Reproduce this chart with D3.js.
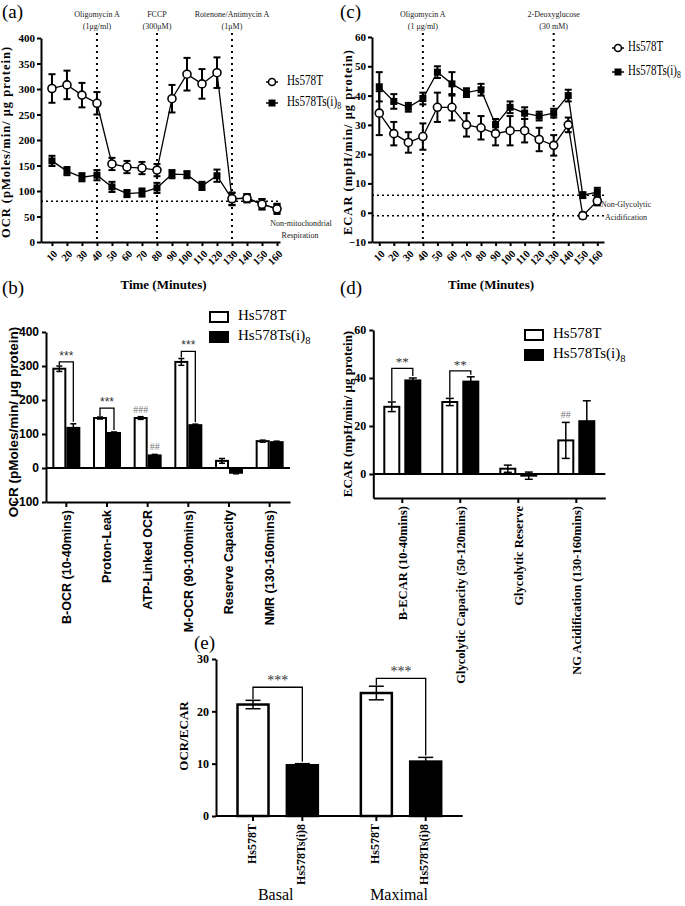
<!DOCTYPE html>
<html>
<head>
<meta charset="utf-8">
<script src="https://cdn.jsdelivr.net/npm/d3@7"></script>
<style>
  body { margin: 0; background: #fff; }
  svg { display: block; }
</style>
</head>
<body>
<svg id="fig" width="685" height="906"></svg>
<script>
// ---- data ----
const timeMin = [10, 20, 30, 40, 50, 60, 70, 80, 90, 100, 110, 120, 130, 140, 150, 160];

// (a) OCR time course
const ocrParent    = [301, 308, 288, 272, 153, 147, 145, 141, 281, 329, 310, 332, 85, 86, 74, 65];
const ocrParentErr = [28, 28, 24, 22, 12, 12, 12, 12, 27, 32, 29, 30, 12, 8, 10, 10];
const ocrClone     = [159, 139, 127, 131, 108, 95, 97, 106, 133, 132, 110, 130, 84, 86, 74, 66];
const ocrCloneErr  = [10, 8, 8, 10, 10, 7, 8, 10, 8, 7, 8, 12, 12, 8, 10, 8];

// (c) ECAR time course
const ecarParent    = [34, 27, 24, 26, 36, 36, 30, 29, 27, 28, 28, 25, 23, 30, -1, 4];
const ecarParentErr = [7.5, 4, 3.5, 4.5, 5, 4.5, 4, 4, 4, 5, 4, 4, 3.5, 2.5, 1, 1.5];
const ecarClone     = [43, 38, 36, 39, 48, 44, 41, 42, 30, 36, 34, 33, 34, 40, 6, 7];
const ecarCloneErr  = [5, 2.5, 1.5, 2, 2, 4, 1.5, 2, 2, 2, 2, 1.5, 1.5, 2, 1, 1.5];

// (b) OCR parameters
const ocrCats = ['B-OCR (10-40mins)', 'Proton-Leak', 'ATP-Linked OCR', 'M-OCR (90-100mins)', 'Reserve Capacity', 'NMR (130-160mins)'];
const ocrBarParent    = [292, 147, 147, 312, 21, 79];
const ocrBarParentErr = [8, 3, 4, 10, 7, 3];
const ocrBarClone     = [118, 103, 37, 126, -14, 76];
const ocrBarCloneErr  = [12, 3, 3, 3, 3, 3];
const ocrSig = [
  { cat: 0, text: '***', level: 312 },
  { cat: 1, text: '***', level: 176 },
  { cat: 3, text: '***', level: 343 }
];
const ocrHash = [
  { cat: 2, series: 0, text: '###' },
  { cat: 2, series: 1, text: '##' }
];

// (d) ECAR parameters
const ecarCats = ['B-ECAR (10-40mins)', 'Glycolytic Capacity (50-120mins)', 'Glycolytic Reserve', 'NG Acidification (130-160mins)'];
const ecarBarParent    = [28, 30, 2.2, 14];
const ecarBarParentErr = [2, 1.5, 1.5, 7.5];
const ecarBarClone     = [39, 38.5, -0.7, 22];
const ecarBarCloneErr  = [1, 2, 1.5, 8.5];
const ecarSig = [
  { cat: 0, text: '**', level: 44 },
  { cat: 1, text: '**', level: 43 }
];
const ecarHash = [{ cat: 3, series: 0, text: '##' }];

// (e) OCR/ECAR ratio
const ratioGroups    = ['Basal', 'Maximal'];
const ratioParent    = [21.3, 23.5];
const ratioParentErr = [0.8, 1.3];
const ratioClone     = [9.7, 10.4];
const ratioCloneErr  = [0.3, 0.8];
const ratioSig = [
  { group: 0, text: '***', level: 24.6 },
  { group: 1, text: '***', level: 26.3 }
];

const seriesNames = ['Hs578T', 'Hs578Ts(i)8'];

// ---- drawing ----
const serif = '"Liberation Serif", "Times New Roman", serif';
const sans = '"Liberation Sans", Arial, sans-serif';
const svg = d3.select('#fig');

function styleAxis(g, font, size) {
  g.attr('font-family', font).attr('font-size', size).attr('font-weight', 'bold');
  g.select('.domain').attr('stroke', '#000').attr('stroke-width', 2);
  g.selectAll('.tick line').attr('stroke', '#000').attr('stroke-width', 2);
  g.selectAll('.tick text').attr('fill', '#000');
}

function cloneLabel(sel, x, y, size, font) {
  const t = sel.append('text').attr('x', x).attr('y', y).attr('font-family', font)
    .attr('font-size', size).attr('dominant-baseline', 'middle').text('Hs578Ts(i)');
  t.append('tspan').attr('font-size', size * 0.7).attr('dy', size * 0.3).text('8');
  return t;
}

function panelTag(x, y, txt) {
  svg.append('text').attr('x', x).attr('y', y).attr('font-family', serif)
    .attr('font-size', 19).text(txt);
}

function timePanel(o) {
  const g = svg.append('g');
  const [x0, x1] = o.x.range();
  const yBase = o.y.range()[0];

  o.drugs.forEach(d => {
    g.append('line').attr('x1', o.x(d.t)).attr('x2', o.x(d.t))
      .attr('y1', 33).attr('y2', yBase)
      .attr('stroke', '#000').attr('stroke-width', 2).attr('stroke-dasharray', '2,4');
    g.append('text').attr('x', o.x(d.t)).attr('y', 17).attr('text-anchor', 'middle')
      .attr('font-family', serif).attr('font-size', 8).attr('fill', '#222').text(d.l1);
    g.append('text').attr('x', o.x(d.t)).attr('y', 29).attr('text-anchor', 'middle')
      .attr('font-family', serif).attr('font-size', 8).attr('fill', '#222').text(d.l2);
  });

  o.baselines.forEach(v => {
    g.append('line').attr('x1', x0).attr('x2', o.baseEnd).attr('y1', o.y(v)).attr('y2', o.y(v))
      .attr('stroke', '#000').attr('stroke-width', 1.5).attr('stroke-dasharray', '2,3');
  });
  o.baseText.forEach(t => {
    g.append('text').attr('x', t.x).attr('y', t.y).attr('text-anchor', 'middle')
      .attr('font-family', serif).attr('font-size', 8).attr('fill', '#222').text(t.s);
  });

  const ya = g.append('g').attr('transform', `translate(${x0},0)`)
    .call(d3.axisLeft(o.y).tickValues(o.yTicks).tickSize(4).tickPadding(2).tickSizeOuter(0));
  styleAxis(ya, serif, 11);

  const xa = g.append('g').attr('transform', `translate(0,${yBase})`)
    .call(d3.axisBottom(o.x).tickValues(timeMin).tickSize(4).tickSizeOuter(0));
  styleAxis(xa, serif, 10.5);
  xa.selectAll('.tick text').attr('y', 0).attr('dy', '0.35em')
    .attr('transform', 'translate(3,10) rotate(-45)').attr('text-anchor', 'end');

  g.append('text').attr('x', (x0 + x1) / 2 + 3).attr('y', 289).attr('text-anchor', 'middle')
    .attr('font-family', serif).attr('font-size', 13).attr('font-weight', 'bold').text('Time (Minutes)');

  g.append('text').attr('transform', `translate(${o.titleX},${o.titleY}) rotate(-90)`)
    .attr('text-anchor', 'middle').attr('font-family', serif).attr('font-size', 12.5)
    .attr('font-weight', 'bold').attr('letter-spacing', 1).text(o.title);

  const line = d3.line().x(d => o.x(d.t)).y(d => o.y(d.v));
  o.series.forEach(s => {
    const pts = timeMin.map((t, i) => ({ t, v: s.vals[i], e: s.errs[i] }));
    const sg = g.append('g');
    sg.append('path').datum(pts).attr('d', line).attr('fill', 'none')
      .attr('stroke', '#000').attr('stroke-width', 1.3);
    const eb = sg.selectAll('.eb').data(pts).enter().append('g');
    eb.append('line').attr('x1', d => o.x(d.t)).attr('x2', d => o.x(d.t))
      .attr('y1', d => o.y(d.v - d.e)).attr('y2', d => o.y(d.v + d.e))
      .attr('stroke', '#000').attr('stroke-width', 2);
    [-1, 1].forEach(sgn => {
      eb.append('line').attr('x1', d => o.x(d.t) - 3.5).attr('x2', d => o.x(d.t) + 3.5)
        .attr('y1', d => o.y(d.v + sgn * d.e)).attr('y2', d => o.y(d.v + sgn * d.e))
        .attr('stroke', '#000').attr('stroke-width', 2);
    });
    if (s.marker === 'circle') {
      sg.selectAll('.m').data(pts).enter().append('circle')
        .attr('cx', d => o.x(d.t)).attr('cy', d => o.y(d.v)).attr('r', 4)
        .attr('fill', '#fff').attr('stroke', '#000').attr('stroke-width', 1.6);
    } else {
      sg.selectAll('.m').data(pts).enter().append('rect')
        .attr('x', d => o.x(d.t) - 3.5).attr('y', d => o.y(d.v) - 3.5)
        .attr('width', 7).attr('height', 7).attr('fill', '#000');
    }
  });

  // legend (text is narrow in the source, so squeeze it horizontally)
  const lg = g.append('g');
  seriesNames.forEach((n, i) => {
    const ly = o.legY + i * o.legGap;
    lg.append('line').attr('x1', o.legX - 6).attr('x2', o.legX + 6).attr('y1', ly).attr('y2', ly)
      .attr('stroke', '#000').attr('stroke-width', 1.5);
    const tg = lg.append('g').attr('transform', `translate(${o.legX + o.legTextOff},${ly}) scale(${o.legSquash},1)`);
    if (i === 0) {
      lg.append('circle').attr('cx', o.legX).attr('cy', ly).attr('r', 3.5)
        .attr('fill', '#fff').attr('stroke', '#000').attr('stroke-width', 1.6);
      tg.append('text').attr('x', 0).attr('y', 0).attr('dominant-baseline', 'middle')
        .attr('font-family', serif).attr('font-size', 14).text(n);
    } else {
      lg.append('rect').attr('x', o.legX - 3.5).attr('y', ly - 3.5).attr('width', 7).attr('height', 7).attr('fill', '#000');
      cloneLabel(tg, 0, 0, 14, serif);
    }
  });
}

function drawBar(g, cx, w, v, e, y, filled, capW, sw) {
  const y0 = y(0);
  g.append('rect').attr('x', cx - w / 2).attr('y', Math.min(y(v), y0))
    .attr('width', w).attr('height', Math.abs(y(v) - y0))
    .attr('fill', filled ? '#000' : '#fff').attr('stroke', '#000').attr('stroke-width', sw);
  g.append('line').attr('x1', cx).attr('x2', cx).attr('y1', y(v - e)).attr('y2', y(v + e))
    .attr('stroke', '#000').attr('stroke-width', 1.5);
  [-1, 1].forEach(s => {
    g.append('line').attr('x1', cx - capW / 2).attr('x2', cx + capW / 2)
      .attr('y1', y(v + s * e)).attr('y2', y(v + s * e))
      .attr('stroke', '#000').attr('stroke-width', 1.5);
  });
}

function bracket(g, xa, xb, yLevel, yLeft, yRight, txt, font, size) {
  g.append('path').attr('d', `M${xa},${yLeft}V${yLevel}H${xb}V${yRight}`)
    .attr('fill', 'none').attr('stroke', '#000').attr('stroke-width', 1.3);
  g.append('text').attr('x', (xa + xb) / 2).attr('y', yLevel - 2).attr('text-anchor', 'middle')
    .attr('font-family', font).attr('font-size', size).attr('fill', '#333').text(txt);
}

function barPanel(o) {
  const g = svg.append('g');
  const x = o.x, y = o.y;
  const [xl, xr] = x.range();
  const parents = o.parent, clones = o.clone;

  const ya = g.append('g').attr('transform', `translate(${xl},0)`)
    .call(d3.axisLeft(y).tickValues(o.yTicks).tickSize(4).tickPadding(3).tickSizeOuter(0));
  styleAxis(ya, o.font, o.tickSize);

  const xa = g.append('g').attr('transform', `translate(0,${y.range()[0]})`)
    .call(d3.axisBottom(x).tickSize(5).tickSizeOuter(0));
  styleAxis(xa, o.font, o.catSize);
  xa.selectAll('.tick text').attr('y', 0).attr('dy', '0.35em')
    .attr('transform', `translate(0,${o.labelDrop}) rotate(-90)`).attr('text-anchor', 'end');

  g.append('line').attr('x1', xl).attr('x2', xr).attr('y1', y(0)).attr('y2', y(0))
    .attr('stroke', '#000').attr('stroke-width', 2);

  const cx = c => x(c) + x.bandwidth() / 2;
  o.cats.forEach((c, i) => {
    drawBar(g, cx(c) - o.off - o.bw / 2, o.bw, parents[i], o.parentErr[i], y, false, o.capW, 2);
    drawBar(g, cx(c) + o.off + o.bw / 2, o.bw, clones[i], o.cloneErr[i], y, true, o.capW, 2);
  });

  o.sig.forEach(s => {
    const c = o.cats[s.cat], i = s.cat;
    const xa0 = cx(c) - o.off - o.bw / 2, xb0 = cx(c) + o.off + o.bw / 2;
    bracket(g, xa0, xb0, y(s.level),
      y(parents[i] + o.parentErr[i]) - 1, y(clones[i] + o.cloneErr[i]) - 2,
      s.text, o.font, o.sigSize);
  });
  o.hash.forEach(h => {
    const c = o.cats[h.cat], i = h.cat;
    const v = h.series === 0 ? parents[i] + o.parentErr[i] : clones[i] + o.cloneErr[i];
    const bx = h.series === 0 ? cx(c) - o.off - o.bw / 2 : cx(c) + o.off + o.bw / 2;
    g.append('text').attr('x', bx).attr('y', y(v) - 4).attr('text-anchor', 'middle')
      .attr('font-family', serif).attr('font-size', 10).attr('fill', '#777').text(h.text);
  });

  g.append('text').attr('transform', `translate(${o.titleX},${o.titleY}) rotate(-90)`)
    .attr('text-anchor', 'middle').attr('font-family', o.font).attr('font-size', o.titleSize)
    .attr('font-weight', 'bold').text(o.title);

  // legend
  seriesNames.forEach((n, i) => {
    const ly = o.legY + i * o.legGap;
    g.append('rect').attr('x', o.legX).attr('y', ly - 5).attr('width', 18).attr('height', 10)
      .attr('fill', i ? '#000' : '#fff').attr('stroke', '#000').attr('stroke-width', 2);
    if (i === 0) {
      g.append('text').attr('x', o.legX + 28).attr('y', ly).attr('dominant-baseline', 'middle')
        .attr('font-family', serif).attr('font-size', 15).text(n);
    } else {
      cloneLabel(g, o.legX + 28, ly, 15, serif);
    }
  });
}

// ---- (a) ----
panelTag(2, 18, '(a)');
timePanel({
  x: d3.scaleLinear().domain([2.7, 162]).range([41, 280]),
  y: d3.scaleLinear().domain([0, 400]).range([242, 38]),
  yTicks: d3.range(0, 401, 50),
  series: [
    { vals: ocrClone, errs: ocrCloneErr, marker: 'square' },
    { vals: ocrParent, errs: ocrParentErr, marker: 'circle' }
  ],
  drugs: [
    { t: 40, l1: 'Oligomycin A', l2: '(1μg/ml)' },
    { t: 80, l1: 'FCCP', l2: '(300μM)' },
    { t: 130, l1: 'Rotenone/Antimycin A', l2: '(1μM)' }
  ],
  baselines: [80],
  baseEnd: 281,
  baseText: [{ x: 301, y: 226, s: 'Non-mitochondrial' }, { x: 300, y: 238, s: 'Respiration' }],
  title: 'OCR (pMoles/min/ μg protein)', titleX: 10, titleY: 142,
  legX: 272, legY: 82, legGap: 21, legSquash: 0.8, legTextOff: 15
});

// ---- (c) ----
panelTag(340, 18, '(c)');
timePanel({
  x: d3.scaleLinear().domain([5, 164.6]).range([372, 604]),
  y: d3.scaleLinear().domain([-10, 60]).range([242, 37]),
  yTicks: d3.range(-10, 61, 10),
  series: [
    { vals: ecarClone, errs: ecarCloneErr, marker: 'square' },
    { vals: ecarParent, errs: ecarParentErr, marker: 'circle' }
  ],
  drugs: [
    { t: 40, l1: 'Oligomycin A', l2: '(1 μg/ml)' },
    { t: 130, l1: '2-Deoxyglucose', l2: '(30 mM)' }
  ],
  baselines: [6, -1],
  baseEnd: 606,
  baseText: [{ x: 626, y: 207, s: 'Non-Glycolytic' }, { x: 626, y: 220, s: 'Acidification' }],
  title: 'ECAR (mpH/min/ μg protein)', titleX: 352, titleY: 142,
  legX: 618, legY: 48, legGap: 24, legSquash: 0.78, legTextOff: 10
});

// ---- (b) ----
panelTag(2, 294, '(b)');
barPanel({
  cats: ocrCats,
  x: d3.scaleBand().domain(ocrCats).range([46, 290]),
  y: d3.scaleLinear().domain([-100, 400]).range([502, 332]),
  yTicks: [-100, 0, 100, 200, 300, 400],
  parent: ocrBarParent, parentErr: ocrBarParentErr,
  clone: ocrBarClone, cloneErr: ocrBarCloneErr,
  bw: 12, off: 1, capW: 6,
  font: sans, tickSize: 12, catSize: 12.5, labelDrop: 8, sigSize: 12,
  sig: ocrSig, hash: ocrHash,
  title: 'OCR (pMoles/min/ μg protein)', titleX: 18, titleY: 422, titleSize: 13.5,
  legX: 210, legY: 317, legGap: 20
});

// ---- (d) ----
panelTag(340, 294, '(d)');
barPanel({
  cats: ecarCats,
  x: d3.scaleBand().domain(ecarCats).range([373.3, 605.3]),
  y: d3.scaleLinear().domain([-10, 60]).range([498, 330]),
  yTicks: [0, 20, 40, 60],
  parent: ecarBarParent, parentErr: ecarBarParentErr,
  clone: ecarBarClone, cloneErr: ecarBarCloneErr,
  bw: 15, off: 3, capW: 8,
  font: serif, tickSize: 12, catSize: 12.5, labelDrop: 8, sigSize: 13,
  sig: ecarSig, hash: ecarHash,
  title: 'ECAR (mpH/min/ μg protein)', titleX: 352, titleY: 414, titleSize: 13,
  legX: 525, legY: 335, legGap: 20
});

// ---- (e) ----
panelTag(194, 649, '(e)');
(function () {
  const g = svg.append('g');
  const outer = d3.scaleBand().domain(ratioGroups).range([216, 462.7]);
  const inner = d3.scaleBand().domain(seriesNames).range([0, outer.bandwidth()]).paddingInner(0.5).paddingOuter(0.5);
  const y = d3.scaleLinear().domain([0, 30]).range([816, 659]);
  const bw = 31;
  const bx = (gi, s) => outer(ratioGroups[gi]) + inner(seriesNames[s]) + inner.bandwidth() / 2;

  const ya = g.append('g').attr('transform', 'translate(216,0)')
    .call(d3.axisLeft(y).tickValues([0, 10, 20, 30]).tickSize(4).tickPadding(3).tickSizeOuter(0));
  styleAxis(ya, serif, 12);

  g.append('line').attr('x1', 216).attr('x2', 462.7).attr('y1', y(0)).attr('y2', y(0))
    .attr('stroke', '#000').attr('stroke-width', 2);

  ratioGroups.forEach((grp, gi) => {
    const vals = [ratioParent[gi], ratioClone[gi]];
    const errs = [ratioParentErr[gi], ratioCloneErr[gi]];
    seriesNames.forEach((n, s) => {
      const cx = bx(gi, s);
      g.append('line').attr('x1', cx).attr('x2', cx).attr('y1', y(0)).attr('y2', y(0) + 5)
        .attr('stroke', '#000').attr('stroke-width', 2);
      drawBar(g, cx, bw, vals[s], errs[s], y, s === 1, 15, 2.5);
      g.append('text').attr('transform', `translate(${cx},${y(0) + 8}) rotate(-90)`)
        .attr('text-anchor', 'end').attr('dominant-baseline', 'middle')
        .attr('font-family', serif).attr('font-size', 12).attr('font-weight', 'bold').text(n);
    });
    g.append('text').attr('x', outer(grp) + outer.bandwidth() / 2 - 2).attr('y', 900)
      .attr('text-anchor', 'middle').attr('font-family', serif).attr('font-size', 16).text(grp);
  });

  ratioSig.forEach(s => {
    const gi = s.group;
    bracket(g, bx(gi, 0), bx(gi, 1), y(s.level),
      y(ratioParent[gi] + ratioParentErr[gi]) - 1, y(ratioClone[gi] + ratioCloneErr[gi]) - 2,
      s.text, serif, 14);
  });

  g.append('text').attr('transform', 'translate(188,736) rotate(-90)')
    .attr('text-anchor', 'middle').attr('font-family', serif).attr('font-size', 13)
    .attr('font-weight', 'bold').text('OCR/ECAR');
})();
</script>
</body>
</html>
